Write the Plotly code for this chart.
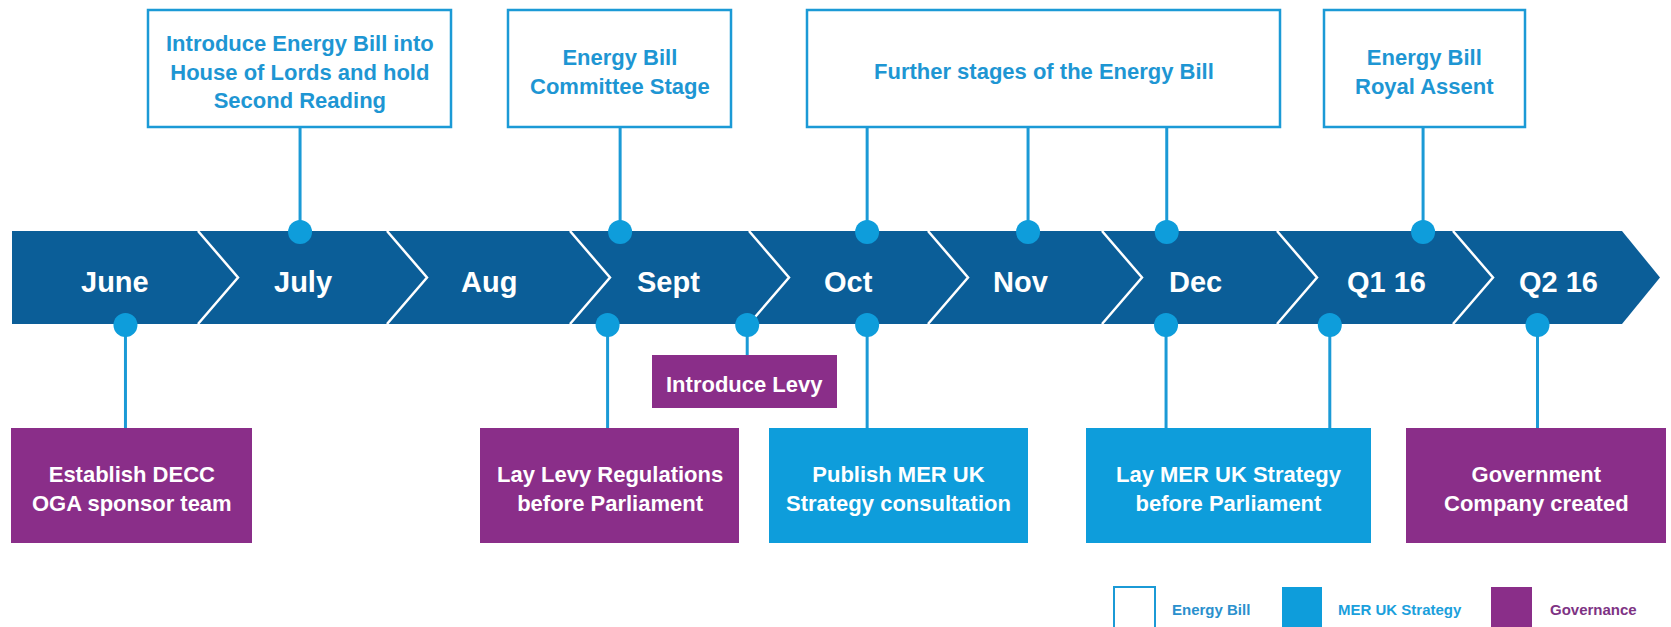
import plotly.graph_objects as go

# ---------------- data ----------------
periods = ["June", "July", "Aug", "Sept", "Oct", "Nov", "Dec", "Q1 16", "Q2 16"]

categories = ["Energy Bill", "MER UK Strategy", "Governance"]

box_text = [
    "Introduce Energy Bill into<br>House of Lords and hold<br>Second Reading",
    "Energy Bill<br>Committee Stage",
    "Further stages of the Energy Bill",
    "Energy Bill<br>Royal Assent",
    "Establish DECC<br>OGA sponsor team",
    "Lay Levy Regulations<br>before Parliament",
    "Introduce Levy",
    "Publish MER UK<br>Strategy consultation",
    "Lay MER UK Strategy<br>before Parliament",
    "Government<br>Company created",
]
box_category = ["Energy Bill", "Energy Bill", "Energy Bill", "Energy Bill",
                "Governance", "Governance", "Governance",
                "MER UK Strategy", "MER UK Strategy", "Governance"]
box_side = ["above"] * 4 + ["below"] * 6

# milestones: which box they belong to and where on the timeline (period index + fraction)
milestone_box = [0, 1, 2, 2, 2, 3, 4, 5, 6, 7, 8, 8, 9]
milestone_time = [1.54, 3.28, 4.66, 5.575, 6.37, 7.83, 0.61, 3.21, 3.99, 4.66, 6.366, 7.30, 8.50]

# ---------------- layout constants ----------------
W, H = 1671, 627
EDGES = [12, 198, 387, 570, 749, 928, 1102, 1277, 1453, 1622]   # period boundaries (px)
LABEL_X = [115, 303, 489, 668, 848, 1020, 1195, 1386, 1558]      # period label centres (px)
BAND_TOP, BAND_BOT = 231, 324
BAND_MID = (BAND_TOP + BAND_BOT) / 2
CHEV_DEPTH = 40
ARROW_TIP = 1660
TEXT_DY = 3

# box geometry (x0, x1, y0, y1) in px, same order as box_text
BOX_GEOM = [
    (148, 451, 10, 127),
    (508, 731, 10, 127),
    (807, 1280, 10, 127),
    (1324, 1525, 10, 127),
    (11, 252, 428, 543),
    (480, 739, 428, 543),
    (652, 837, 355, 408),
    (769, 1028, 428, 543),
    (1086, 1371, 428, 543),
    (1406, 1666, 428, 543),
]

DARK = "#0B5E98"
LIGHT = "#0E9DDB"
LINE_BLUE = "#1B9AD6"
PURPLE = "#8A2E89"
FONT = "Liberation Sans, Arial, Helvetica, sans-serif"

fill_of = {"Energy Bill": "white", "MER UK Strategy": LIGHT, "Governance": PURPLE}
text_of = {"Energy Bill": "#1E96D3", "MER UK Strategy": "white", "Governance": "white"}


def time_to_px(t):
    i = int(t)
    f = t - i
    return EDGES[i] + f * (EDGES[i + 1] - EDGES[i])


fig = go.Figure()
shapes = []
annotations = []

# arrow band
shapes.append(dict(
    type="path", xref="x", yref="y", layer="below",
    path=(f"M {EDGES[0]},{BAND_TOP} L {EDGES[-1]},{BAND_TOP} L {ARROW_TIP},{BAND_MID} "
          f"L {EDGES[-1]},{BAND_BOT} L {EDGES[0]},{BAND_BOT} Z"),
    fillcolor=DARK, line=dict(width=0)))

# chevrons
for c in EDGES[1:-1]:
    shapes.append(dict(
        type="path", xref="x", yref="y", layer="below",
        path=f"M {c},{BAND_TOP} L {c + CHEV_DEPTH},{BAND_MID} L {c},{BAND_BOT}",
        line=dict(color="white", width=2.5)))

# period labels
for p, cx in zip(periods, LABEL_X):
    annotations.append(dict(
        x=cx, y=BAND_MID + 4, xref="x", yref="y", text=p, showarrow=False,
        xanchor="center", yanchor="middle",
        font=dict(family=FONT, size=29, color="white", weight="bold")))

# boxes
for k, (txt, cat) in enumerate(zip(box_text, box_category)):
    x0, x1, y0, y1 = BOX_GEOM[k]
    if cat == "Energy Bill":
        shapes.append(dict(type="rect", xref="x", yref="y", layer="below",
                           x0=x0, x1=x1, y0=y0, y1=y1, fillcolor="white",
                           line=dict(color=LINE_BLUE, width=2.5)))
    else:
        shapes.append(dict(type="rect", xref="x", yref="y", layer="below",
                           x0=x0, x1=x1, y0=y0, y1=y1, fillcolor=fill_of[cat],
                           line=dict(width=0)))
    annotations.append(dict(
        x=(x0 + x1) / 2, y=(y0 + y1) / 2 + TEXT_DY, xref="x", yref="y", text=txt,
        showarrow=False, xanchor="center", yanchor="middle", align="center",
        font=dict(family=FONT, size=22, color=text_of[cat], weight="bold")))

# connectors and dots
lx, ly, dx, dy = [], [], [], []
for b, t in zip(milestone_box, milestone_time):
    x = time_to_px(t)
    x0, x1, y0, y1 = BOX_GEOM[b]
    if box_side[b] == "above":
        edge, dot = y1, BAND_TOP + 1
    else:
        edge, dot = y0, BAND_BOT + 1
    lx += [x, x, None]
    ly += [edge, dot, None]
    dx.append(x)
    dy.append(dot)

fig.add_trace(go.Scatter(x=lx, y=ly, mode="lines",
                         line=dict(color=LINE_BLUE, width=3),
                         hoverinfo="skip", showlegend=False))
fig.add_trace(go.Scatter(x=dx, y=dy, mode="markers",
                         marker=dict(size=24, color=LIGHT, line=dict(width=0)),
                         hoverinfo="skip", showlegend=False))

# legend (drawn manually)
LEG_SQ = [(1114, 1155), (1282, 1322), (1491, 1532)]
LEG_TX = [1170, 1336, 1548]
LEG_COL = ["#2A90CD", "#1BA0DC", "#7E3384"]
for (sx0, sx1), tx, cat, col in zip(LEG_SQ, LEG_TX, categories, LEG_COL):
    if cat == "Energy Bill":
        shapes.append(dict(type="rect", xref="x", yref="y", x0=sx0, x1=sx1, y0=587, y1=660,
                           fillcolor="white", line=dict(color=LINE_BLUE, width=2)))
    else:
        shapes.append(dict(type="rect", xref="x", yref="y", x0=sx0, x1=sx1, y0=587, y1=660,
                           fillcolor=fill_of[cat], line=dict(width=0)))
    annotations.append(dict(
        x=tx, y=609, xref="x", yref="y", text=cat, showarrow=False,
        xanchor="left", yanchor="middle",
        font=dict(family=FONT, size=15, color=col, weight="bold")))

fig.update_layout(
    width=W, height=H,
    margin=dict(l=0, r=0, t=0, b=0),
    paper_bgcolor="white", plot_bgcolor="white",
    xaxis=dict(range=[0, W], visible=False, fixedrange=True),
    yaxis=dict(range=[H, 0], visible=False, fixedrange=True),
    shapes=shapes, annotations=annotations, showlegend=False,
)

fig.write_html(
    "out.html",
    config={"displayModeBar": False},
    post_script="document.body.style.margin='0';document.body.style.overflow='hidden';",
)
